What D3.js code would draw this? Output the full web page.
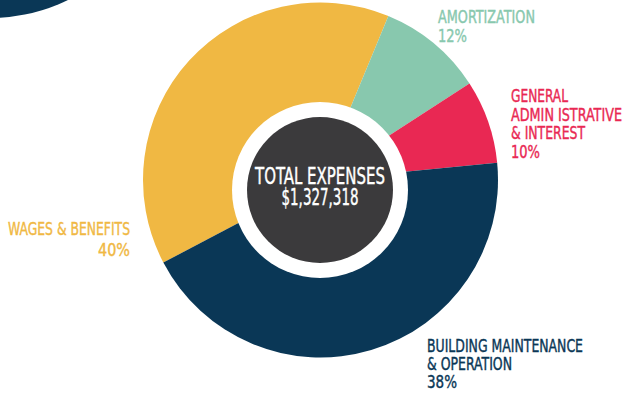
<!DOCTYPE html>
<html>
<head>
<meta charset="utf-8">
<script src="https://cdn.jsdelivr.net/npm/d3@7"></script>
<style>
  html, body { margin: 0; padding: 0; background: #fff; }
  svg { display: block; }
  text { font-family: "DejaVu Sans", sans-serif; font-stretch: condensed; stroke-width: 0.4; }
</style>
</head>
<body>
<svg id="chart"></svg>
<script>
// slices in drawing order, clockwise starting from the wages slice
var categories = ["WAGES & BENEFITS", "AMORTIZATION", "GENERAL ADMIN ISTRATIVE & INTEREST", "BUILDING MAINTENANCE & OPERATION"];
// share of the ring as drawn in the picture (degrees of arc / 3.6)
var shares = [38.9, 9.6, 7.6, 43.8];
// percentages printed in the labels
var percentLabels = ["40%", "12%", "10%", "38%"];
var colors = ["#F0B843", "#88C8AE", "#E92853", "#0A3756"];
var totalLabel = ["TOTAL EXPENSES", "$1,327,318"];

var width = 630, height = 394;
var cx = 320.5, cy = 180, radius = 177.5;

var svg = d3.select("#chart")
    .attr("width", width)
    .attr("height", height);

// piece of a neighbouring ring peeking in at the top-left corner
svg.append("circle")
    .attr("cx", -10)
    .attr("cy", -160)
    .attr("r", 178)
    .attr("fill", colors[3]);

var pie = d3.pie()
    .sort(null)
    .value(function (d) { return d; })
    .startAngle(-117.7 * Math.PI / 180)
    .endAngle((360 - 117.7) * Math.PI / 180);

var arc = d3.arc()
    .innerRadius(0)
    .outerRadius(radius);

var ring = svg.append("g")
    .attr("transform", "translate(" + cx + "," + cy + ")");

ring.selectAll("path")
    .data(pie(shares))
    .enter()
    .append("path")
    .attr("d", arc)
    .attr("fill", function (d, i) { return colors[i]; });

// white hole and dark centre disc
var hub = svg.append("g")
    .attr("transform", "translate(320,190)");
hub.append("circle").attr("r", 88).attr("fill", "#fff");
hub.append("circle").attr("r", 73).attr("fill", "#3B3A3C");

var hubWidths = [130, 77];
hub.selectAll("text")
    .data(totalLabel)
    .enter()
    .append("text")
    .attr("x", 0)
    .attr("y", function (d, i) { return -6.5 + i * 21.5; })
    .attr("text-anchor", "middle")
    .attr("fill", "#fff")
    .attr("stroke", "#fff")
    .attr("font-size", 22.5)
    .attr("textLength", function (d, i) { return hubWidths[i]; })
    .attr("lengthAdjust", "spacingAndGlyphs")
    .text(function (d) { return d; });

// label blocks: lines of name followed by the percentage, with the width each line takes
var labels = [
    { lines: ["AMORTIZATION"], w: [97, 29], x: 438, y: 22.5, step: 19, anchor: "start", color: 1, pct: 1 },
    { lines: ["GENERAL", "ADMIN ISTRATIVE", "& INTEREST"], w: [57, 111, 74, 29], x: 511, y: 102, step: 18.7, anchor: "start", color: 2, pct: 2 },
    { lines: ["WAGES & BENEFITS"], w: [122, 32], x: 130, y: 235, step: 21, anchor: "end", color: 0, pct: 0 },
    { lines: ["BUILDING MAINTENANCE", "& OPERATION"], w: [156, 85, 30], x: 427, y: 351.5, step: 18.4, anchor: "start", color: 3, pct: 3 }
];

labels.forEach(function (l) {
    var g = svg.append("g");
    var all = l.lines.concat([percentLabels[l.pct]]);
    g.selectAll("text")
        .data(all)
        .enter()
        .append("text")
        .attr("x", l.x)
        .attr("y", function (d, i) { return l.y + i * l.step; })
        .attr("text-anchor", l.anchor)
        .attr("fill", colors[l.color])
        .attr("stroke", colors[l.color])
        .attr("font-size", 18)
        .attr("textLength", function (d, i) { return l.w[i]; })
        .attr("lengthAdjust", "spacingAndGlyphs")
        .text(function (d) { return d; });
});
</script>
</body>
</html>
